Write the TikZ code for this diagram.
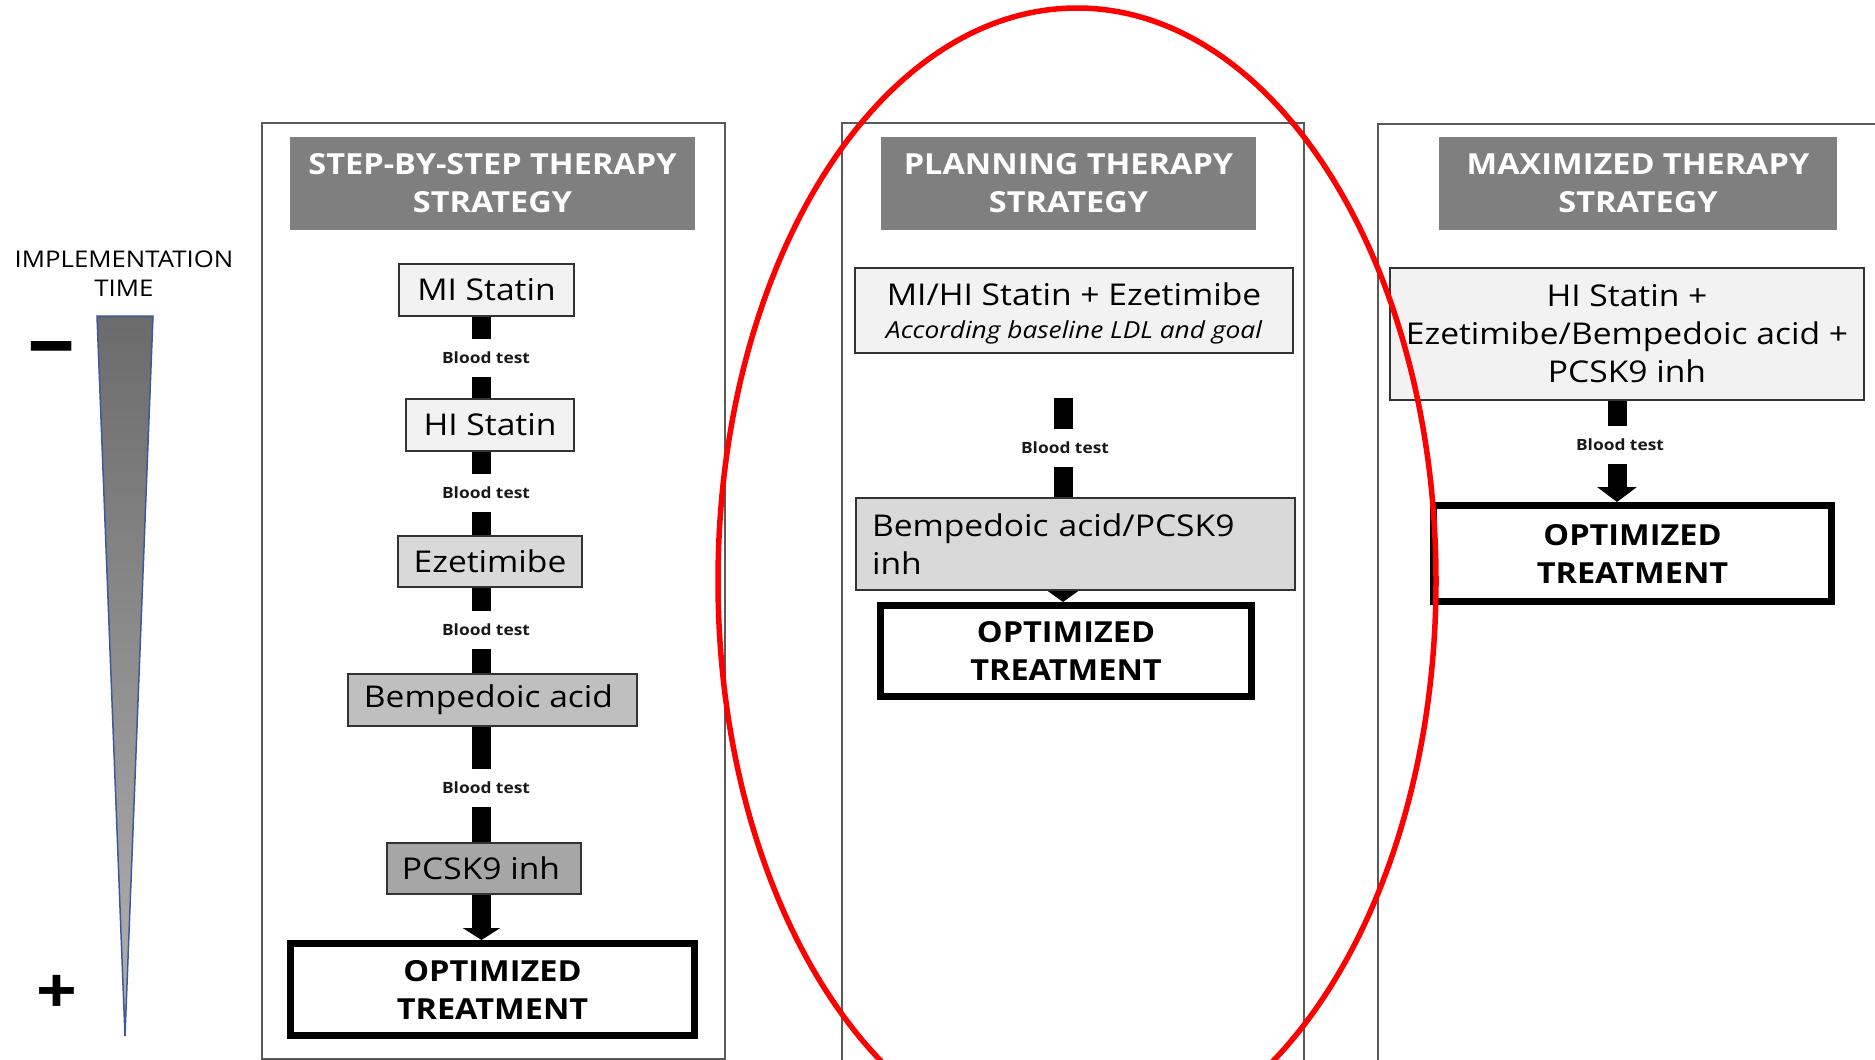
\documentclass[tikz,border=0pt]{standalone}
\usepackage{fontspec}
\setmainfont{Open Sans}[FakeStretch=1.12]
\usetikzlibrary{arrows.meta}
\definecolor{hdrgray}{HTML}{7F7F7F}
\definecolor{fillA}{HTML}{F2F2F2}
\definecolor{fillB}{HTML}{D9D9D9}
\definecolor{fillC}{HTML}{BFBFBF}
\definecolor{fillD}{HTML}{A6A6A6}
\definecolor{framecol}{HTML}{595959}
\definecolor{wedgeedge}{HTML}{3A5A9A}
\begin{document}
\begin{tikzpicture}[x=1pt,y=-1pt,
  panelframe/.style={draw=framecol, line width=2pt},
  header/.style={fill=hdrgray, text=white, inner sep=0pt, align=center,
    font=\bfseries\fontsize{29}{38}\selectfont},
  drug/.style={draw=black!80, line width=2pt, inner sep=0pt, align=center,
    font=\fontsize{30}{38}\selectfont},
  optbox/.style={draw=black, line width=7pt, inner sep=0pt, align=center,
    font=\bfseries\fontsize{29}{38}\selectfont},
  bloodtest/.style={inner sep=0pt, minimum height=37pt, text=black!90,
    font=\bfseries\fontsize{15.5}{18}\selectfont},
  barline/.style={line width=19pt, draw=black},
  bigarrow/.style={line width=19pt, draw=black, -{Triangle[width=#1, length=12pt]}},
  bigarrow/.default=37pt
]
\useasboundingbox (0,0) rectangle (1875,1060);
\clip (0,0) rectangle (1875,1060);

% ---------- implementation time wedge ----------
\node[font=\fontsize{23}{29}\selectfont, align=center, inner sep=0pt] (impl) at (124,274) {IMPLEMENTATION\\TIME};
\shade[top color=black!58, bottom color=black!30, draw=wedgeedge, line width=1.5pt]
  (97,316) -- (153,316) -- (125,1036) -- cycle;
\node[font=\bfseries\fontsize{86}{86}\selectfont, inner sep=0pt] (minus) at (52,356) {–};
\node[font=\bfseries\fontsize{64}{64}\selectfont, inner sep=0pt] (plus) at (57,994) {+};

% ---------- left panel ----------
\draw[panelframe] (262,123) rectangle (725,1059);
\node[header, minimum width=405pt, minimum height=93pt] (h1) at (492.5,183.5) {STEP-BY-STEP THERAPY\\STRATEGY};
\coordinate (axL) at (481.5,0);
\node[drug, fill=fillA, minimum width=175pt, minimum height=52pt] (mi) at (486.5,290) {MI Statin};
\node[bloodtest] (bt1) at (486,358) {Blood test};
\node[drug, fill=fillA, minimum width=168pt, minimum height=52pt] (hi) at (490,425) {HI Statin};
\node[bloodtest] (bt2) at (486,493) {Blood test};
\node[drug, fill=fillB, minimum width=184pt, minimum height=51pt] (eze) at (490,561.5) {Ezetimibe};
\node[bloodtest] (bt3) at (486,630) {Blood test};
\node[drug, fill=fillC, minimum width=289pt, minimum height=52pt] (bemp) at (492.5,700) {Bempedoic acid\hspace*{8pt}};
\node[bloodtest] (bt4) at (486,788) {Blood test};
\node[drug, fill=fillD, minimum width=194pt, minimum height=51pt] (pcsk) at (484,868.5) {PCSK9 inh\hspace*{6pt}};
\node[optbox, minimum width=404pt, minimum height=92pt] (opt1) at (492.5,989.5) {OPTIMIZED\\TREATMENT};
\draw[barline] (mi.south -| axL) -- (bt1.north -| axL);
\draw[barline] (bt1.south -| axL) -- (hi.north -| axL);
\draw[barline] (hi.south -| axL) -- (bt2.north -| axL);
\draw[barline] (bt2.south -| axL) -- (eze.north -| axL);
\draw[barline] (eze.south -| axL) -- (bt3.north -| axL);
\draw[barline] (bt3.south -| axL) -- (bemp.north -| axL);
\draw[barline] (bemp.south -| axL) -- (bt4.north -| axL);
\draw[barline] (bt4.south -| axL) -- (pcsk.north -| axL);
\draw[bigarrow=37pt] (pcsk.south -| axL) -- (opt1.north -| axL);

% ---------- middle panel ----------
\draw[panelframe] (842,123) rectangle (1304,1090);
\node[header, minimum width=375pt, minimum height=93pt] (h2) at (1068.5,183.5) {PLANNING THERAPY\\STRATEGY};
\node[drug, fill=fillA, minimum width=438pt, minimum height=85pt, text depth=0pt] (mhi) at (1074,310.5)
  {\raisebox{0pt}[0pt][0pt]{}MI/HI Statin + Ezetimibe\\[-5pt]{\itshape\fontsize{23.5}{26}\selectfont According baseline LDL and goal}};
\coordinate (m1) at (1063,398);
\node[bloodtest] (bt5) at (1065,448) {Blood test};
\node[drug, fill=fillB, minimum width=439pt, minimum height=92pt, text width=407pt, align=left] (mbemp) at (1075.5,544)
  {Bempedoic acid/PCSK9\\inh};
\node[optbox, minimum width=371pt, minimum height=91pt] (opt2) at (1066,651) {OPTIMIZED\\TREATMENT};
\draw[barline] (m1) -- (bt5.north -| m1);
\draw[barline] (bt5.south -| m1) -- (mbemp.north -| m1);
\draw[line width=19pt, draw=black, -{Triangle[width=30pt, length=11pt]}] (mbemp.south -| m1) -- (opt2.north -| m1);

% ---------- right panel ----------
\draw[panelframe] (1378,124) rectangle (1900,1090);
\node[header, minimum width=398pt, minimum height=93pt] (h3) at (1638,183.5) {MAXIMIZED THERAPY\\STRATEGY};
\coordinate (r1) at (1617,0);
\node[drug, fill=fillA, minimum width=474pt, minimum height=132pt] (rhi) at (1627,334)
  {HI Statin +\\Ezetimibe/Bempedoic acid +\\PCSK9 inh};
\node[bloodtest] (bt6) at (1620,445) {Blood test};
\node[optbox, minimum width=398pt, minimum height=96pt] (opt3) at (1632.5,553.5) {OPTIMIZED\\TREATMENT};
\draw[barline] (rhi.south -| r1) -- (bt6.north -| r1);
\draw[line width=19pt, draw=black, -{Triangle[width=39pt, length=15pt]}] (bt6.south -| r1) -- (opt3.north -| r1);

% ---------- red ellipse ----------
\draw[red, line width=5.5pt] (1077,581) ellipse [x radius=359pt, y radius=573pt];
\end{tikzpicture}
\end{document}
